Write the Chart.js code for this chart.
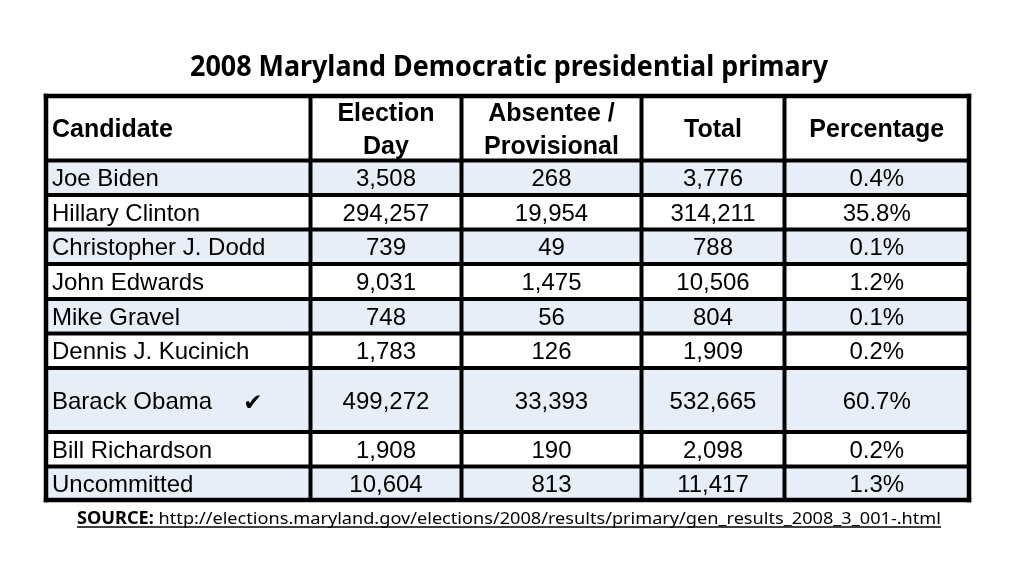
<!DOCTYPE html>
<html>
<head>
<meta charset="utf-8">
<script src="https://cdn.jsdelivr.net/npm/chart.js@4.4.0/dist/chart.umd.min.js"></script>
<style>
  html, body { margin: 0; padding: 0; background: #fff; }
  #wrap { width: 1024px; height: 582px; }
</style>
</head>
<body>
<div id="wrap"><canvas id="myChart"></canvas></div>
<script>
const chartTitle = "2008 Maryland Democratic presidential primary";
const sourceLabel = "SOURCE:";
const sourceUrl = " http://elections.maryland.gov/elections/2008/results/primary/gen_results_2008_3_001-.html";

const headers = [["Candidate"], ["Election", "Day"], ["Absentee /", "Provisional"], ["Total"], ["Percentage"]];
const candidates = ["Joe Biden", "Hillary Clinton", "Christopher J. Dodd", "John Edwards", "Mike Gravel",
    "Dennis J. Kucinich", "Barack Obama", "Bill Richardson", "Uncommitted"];
const electionDay = [3508, 294257, 739, 9031, 748, 1783, 499272, 1908, 10604];
const absentee = [268, 19954, 49, 1475, 56, 126, 33393, 190, 813];
const totals = [3776, 314211, 788, 10506, 804, 1909, 532665, 2098, 11417];
const percentages = [0.4, 35.8, 0.1, 1.2, 0.1, 0.2, 60.7, 0.2, 1.3];
const winner = "Barack Obama";

// table layout (scale units)
const colWidths = [264.5, 151, 180, 143, 184.5];
const rowHeights = [64.5, 34.5, 34.5, 34.5, 35, 34.5, 34.5, 64, 34.5, 33.5];

const sum = a => a.reduce((s, v) => s + v, 0);
const edges = a => a.reduce((e, v) => { e.push(e[e.length - 1] + v); return e; }, [0]);
const fmt = n => n.toLocaleString("en-US");

const tablePlugin = {
    id: "table",
    afterDraw(chart) {
        const ctx = chart.ctx;
        const x = chart.scales.x, y = chart.scales.y;
        const cx = edges(colWidths), ry = edges(rowHeights);
        const px = v => x.getPixelForValue(v);
        const py = v => y.getPixelForValue(v);
        ctx.save();

        // row fills
        candidates.forEach((c, i) => {
            ctx.fillStyle = i % 2 === 0 ? "#e8eef8" : "#ffffff";
            ctx.fillRect(px(0), py(ry[i + 1]), px(cx[cx.length - 1]) - px(0), py(ry[i + 2]) - py(ry[i + 1]));
        });

        // header text
        ctx.fillStyle = "#000";
        ctx.font = "bold 25px 'Liberation Sans', Arial, sans-serif";
        ctx.textBaseline = "alphabetic";
        headers.forEach((lines, j) => {
            const mid = (py(ry[0]) + py(ry[1])) / 2;
            const lh = 33;
            lines.forEach((t, k) => {
                const yy = mid + (k - (lines.length - 1) / 2) * lh + 8.8;
                if (j === 0) {
                    ctx.textAlign = "left";
                    ctx.fillText(t, px(cx[0]) + 6, yy);
                } else {
                    ctx.textAlign = "center";
                    ctx.fillText(t, (px(cx[j]) + px(cx[j + 1])) / 2, yy);
                }
            });
        });

        // body text
        const bodyFont = "24px 'Liberation Sans', Arial, sans-serif";
        ctx.font = bodyFont;
        candidates.forEach((c, i) => {
            const cells = [c, fmt(electionDay[i]), fmt(absentee[i]), fmt(totals[i]), percentages[i].toFixed(1) + "%"];
            const yy = (py(ry[i + 1]) + py(ry[i + 2])) / 2 + 8.6;
            cells.forEach((t, j) => {
                if (j === 0) {
                    ctx.textAlign = "left";
                    ctx.fillText(t, px(cx[0]) + 6, yy);
                } else {
                    ctx.textAlign = "center";
                    ctx.fillText(t, (px(cx[j]) + px(cx[j + 1])) / 2, yy);
                }
            });
            if (c === winner) {
                ctx.font = "bold 23px 'DejaVu Sans', sans-serif";
                ctx.textAlign = "center";
                ctx.fillText("\u2714", px(cx[0]) + 207, yy + 1);
                ctx.font = bodyFont;
            }
        });

        // grid lines
        ctx.strokeStyle = "#000";
        ctx.lineCap = "square";
        ry.forEach((v, i) => {
            ctx.lineWidth = (i === 0 || i === ry.length - 1) ? 4.5 : 4;
            ctx.beginPath();
            ctx.moveTo(px(0), py(v));
            ctx.lineTo(px(cx[cx.length - 1]), py(v));
            ctx.stroke();
        });
        cx.forEach((v, j) => {
            ctx.lineWidth = (j === 0 || j === cx.length - 1) ? 4.5 : 4;
            ctx.beginPath();
            ctx.moveTo(px(v), py(0));
            ctx.lineTo(px(v), py(ry[ry.length - 1]));
            ctx.stroke();
        });

        // title
        const centerX = (px(0) + px(cx[cx.length - 1])) / 2 + 1.5;
        ctx.fillStyle = "#000";
        ctx.textAlign = "center";
        ctx.font = "bold 28px 'Noto Sans', 'Open Sans', sans-serif";
        ctx.fillText(chartTitle, centerX, py(0) - 20, 638);

        // source line
        const fontB = "bold 17px 'Noto Sans', 'Open Sans', sans-serif";
        const fontR = "17px 'Noto Sans', 'Open Sans', sans-serif";
        ctx.font = fontB;
        const wB = ctx.measureText(sourceLabel).width;
        ctx.font = fontR;
        const wR = ctx.measureText(sourceUrl).width;
        const target = 864;
        const k = target / (wB + wR);
        const sx = centerX - target / 2;
        const sy = py(ry[ry.length - 1]) + 24;
        ctx.translate(sx, sy);
        ctx.scale(k, 1);
        ctx.textAlign = "left";
        ctx.font = fontB;
        ctx.fillText(sourceLabel, 0, 0);
        ctx.font = fontR;
        ctx.fillText(sourceUrl, wB, 0);
        ctx.setTransform(1, 0, 0, 1, 0, 0);
        ctx.lineWidth = 1.3;
        ctx.lineCap = "butt";
        ctx.beginPath();
        ctx.moveTo(sx, sy + 3);
        ctx.lineTo(sx + target, sy + 3);
        ctx.stroke();

        ctx.restore();
    }
};

new Chart(document.getElementById("myChart").getContext("2d"), {
    type: "scatter",
    data: { datasets: [] },
    options: {
        responsive: true,
        maintainAspectRatio: false,
        animation: false,
        layout: { padding: { left: 46, right: 55, top: 96, bottom: 82 } },
        scales: {
            x: { type: "linear", min: 0, max: sum(colWidths), display: false },
            y: { type: "linear", min: 0, max: sum(rowHeights), reverse: true, display: false }
        },
        plugins: { legend: { display: false }, tooltip: { enabled: false } }
    },
    plugins: [tablePlugin]
});
</script>
</body>
</html>
